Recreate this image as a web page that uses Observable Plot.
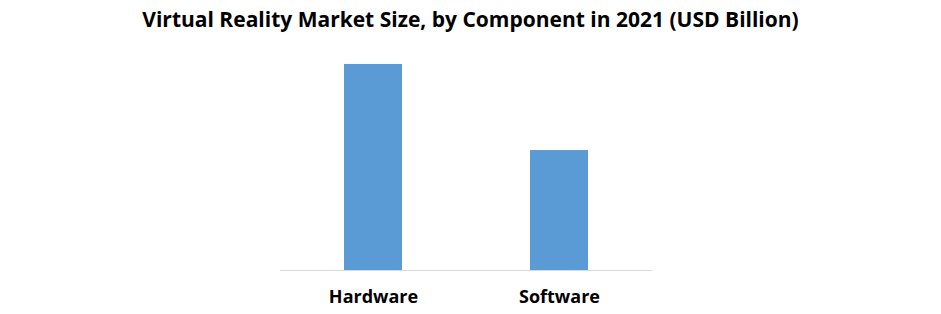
<!DOCTYPE html>
<html>
<head>
<meta charset="utf-8">
<script src="https://cdn.jsdelivr.net/npm/d3@7"></script>
<script src="https://cdn.jsdelivr.net/npm/@observablehq/plot@0.6"></script>
<style>
  html, body { margin: 0; padding: 0; background: #fff; }
  #title { width: 941px; height: 38px; line-height: 38px; text-align: center;
    font-family: "Open Sans", sans-serif; font-weight: bold; font-size: 21px; color: #000; }
  #chart svg { display: block; }
</style>
</head>
<body>
<div id="title">Virtual Reality Market Size, by Component in 2021 (USD Billion)</div>
<div id="chart"></div>
<script>
const components = ["Hardware", "Software"];
const values = [12.4, 7.22];

const data = components.map((c, i) => ({component: c, value: values[i]}));

const chart = Plot.plot({
  width: 941,
  height: 276,
  marginLeft: 280,
  marginRight: 289,
  marginTop: 16,
  marginBottom: 44,
  style: {fontFamily: "Open Sans, sans-serif", background: "#fff"},
  x: {domain: components, paddingInner: 0.688, paddingOuter: 0.344, label: null},
  y: {domain: [0, 13], axis: null},
  marks: [
    Plot.barY(data, {x: "component", y: "value", fill: "#5B9BD5"}),
    Plot.ruleY([0], {stroke: "#d9d9d9", strokeWidth: 1}),
    Plot.axisX({tickSize: 0, tickPadding: 20, fontSize: 18, fontWeight: "bold", fill: "#000", label: null})
  ]
});
document.getElementById("chart").appendChild(chart);
</script>
</body>
</html>
